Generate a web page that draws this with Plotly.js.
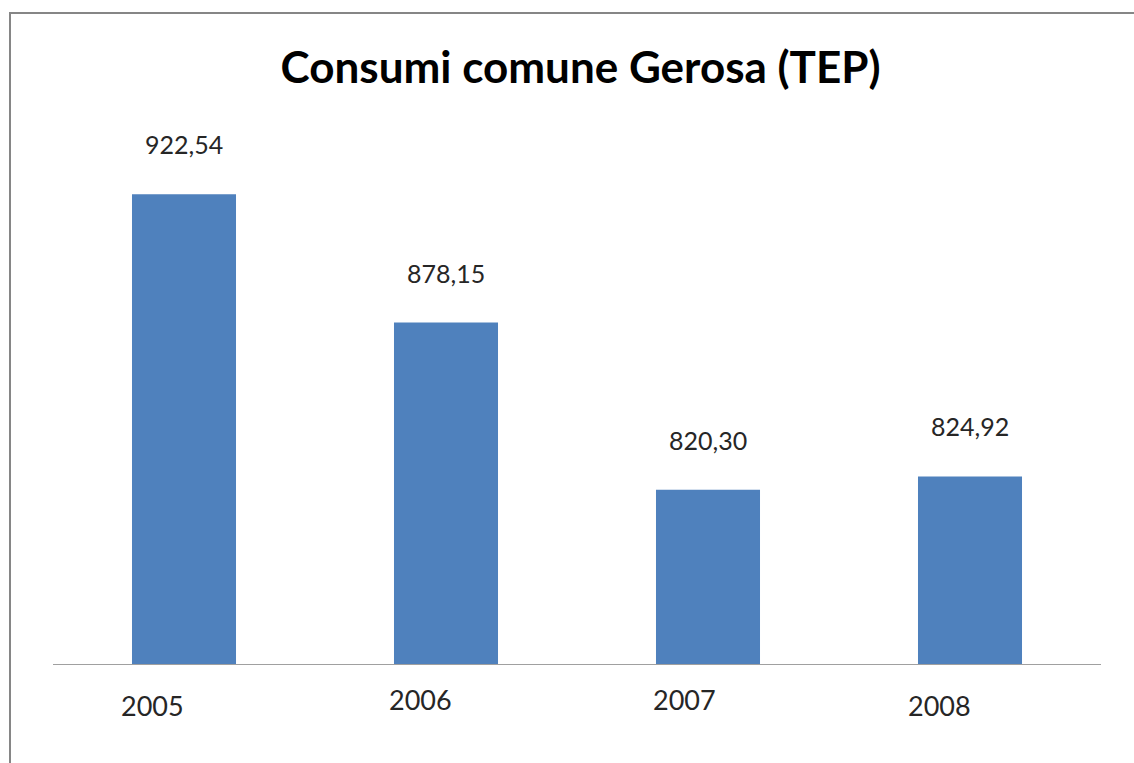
<!DOCTYPE html>
<html>
<head>
<meta charset="utf-8">
<script src="https://cdn.plot.ly/plotly-3.0.1.min.js"></script>
<style>
  html, body { margin: 0; padding: 0; background: #fff; }
  #chart { width: 1134px; height: 763px; }
</style>
</head>
<body>
<div id="chart"></div>
<script>
const titleText = "Consumi comune Gerosa (TEP)";
const years = ["2005", "2006", "2007", "2008"];
const consumi = [922.54, 878.15, 820.30, 824.92];

const fmt = v => v.toFixed(2).replace(".", ",");

// label placement (styling only)
const catShiftX = [-32, -26, -24, -31];
const catShiftY = [-41, -35, -35, -41];

const annotations = [];
years.forEach((yr, i) => {
  annotations.push({
    x: i, y: consumi[i], xref: "x", yref: "y",
    text: fmt(consumi[i]), showarrow: false,
    yshift: 50, xanchor: "center", yanchor: "middle",
    font: { family: "Lato, sans-serif", size: 25, color: "#262626" }
  });
  annotations.push({
    x: i, y: 0, xref: "x", yref: "paper",
    text: yr, showarrow: false,
    xshift: catShiftX[i], yshift: catShiftY[i],
    xanchor: "center", yanchor: "middle",
    font: { family: "Lato, sans-serif", size: 27, color: "#262626" }
  });
});

const data = [{
  type: "bar",
  x: years,
  y: consumi,
  marker: { color: "#4f81bd", line: { width: 0 } },
  hoverinfo: "none"
}];

const layout = {
  width: 1134, height: 763,
  margin: { l: 53, r: 33, t: 86, b: 98.5, pad: 0 },
  paper_bgcolor: "#ffffff",
  plot_bgcolor: "#ffffff",
  showlegend: false,
  bargap: 0.603,
  title: {
    text: "<b>" + titleText + "</b>",
    font: { family: "Lato, sans-serif", size: 44, color: "#000000" },
    x: 0.512, xanchor: "center",
    y: 0.912, yanchor: "middle"
  },
  xaxis: {
    type: "category",
    range: [-0.5, 3.5],
    showline: true, linecolor: "#a0a0a0", linewidth: 1,
    showticklabels: false, ticks: "", showgrid: false, zeroline: false,
    fixedrange: true
  },
  yaxis: {
    range: [760, 960],
    showline: false, showticklabels: false, ticks: "",
    showgrid: false, zeroline: false, fixedrange: true
  },
  annotations: annotations,
  shapes: [{
    type: "rect", xref: "paper", yref: "paper",
    x0: (10 - 53) / 1048, x1: 1.2,
    y0: -0.3, y1: (664.5 - 13) / 578.5,
    line: { color: "#868686", width: 2 },
    fillcolor: "rgba(0,0,0,0)", layer: "below"
  }]
};

Plotly.newPlot("chart", data, layout, { displayModeBar: false, staticPlot: true });
</script>
</body>
</html>
